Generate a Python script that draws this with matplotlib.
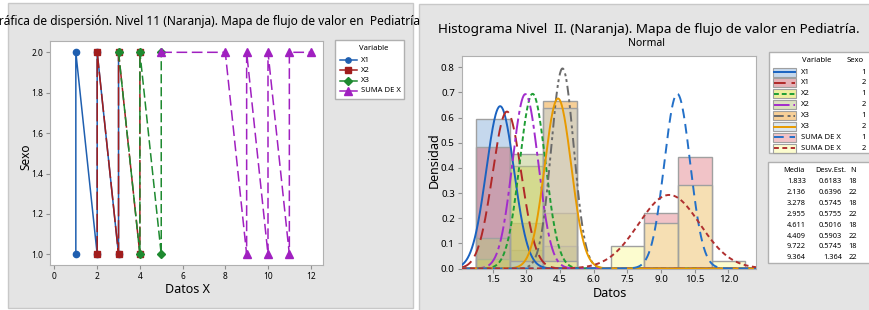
import numpy as np
import matplotlib
matplotlib.use("Agg")
import matplotlib.pyplot as plt
from matplotlib.patches import Rectangle
from matplotlib.lines import Line2D
from matplotlib.colors import to_rgba

plt.rcParams['font.family'] = ['Noto Sans', 'DejaVu Sans']

# ---------------- data ----------------
variables = ["X1", "X1", "X2", "X2", "X3", "X3", "SUMA DE X", "SUMA DE X"]
sexo = [1, 2, 1, 2, 1, 2, 1, 2]
valores = [[1, 2, 3], [1, 2, 3], [2, 3, 4], [2, 3, 4], [4, 5], [3, 4, 5],
           [9, 10, 11], [5, 8, 9, 10, 11, 12]]
conteos = [[5, 11, 2], [3, 13, 6], [1, 11, 6], [4, 15, 3], [7, 11], [1, 11, 10],
           [6, 11, 1], [1, 3, 6, 10, 1, 1]]
media = [1.833, 2.136, 3.278, 2.955, 4.611, 4.409, 9.722, 9.364]
desv = [0.6183, 0.6396, 0.5745, 0.5755, 0.5016, 0.5903, 0.5745, 1.364]
n_obs = [18, 22, 18, 22, 18, 22, 18, 22]
bin_centers = [1.5, 3.0, 4.5, 6.0, 7.5, 9.0, 10.5, 12.0]
scatter_vars = ["X1", "X2", "X3", "SUMA DE X"]

W, H = 870, 310
fig = plt.figure(figsize=(W / 100, H / 100), dpi=100)
fig.patch.set_facecolor('white')

def fx(px):
    return px / W

def fy(py):
    return 1 - py / H

def frect(x0, y0, x1, y1, fc, ec, lw=1.0, z=-5):
    r = Rectangle((fx(x0), fy(y1)), (x1 - x0) / W, (y1 - y0) / H,
                  transform=fig.transFigure, facecolor=fc, edgecolor=ec,
                  linewidth=lw, zorder=z)
    fig.add_artist(r)
    return r

def ftext(px, py, s, **kw):
    fig.text(fx(px), fy(py), s, transform=fig.transFigure, zorder=6, **kw)

# panel backgrounds
frect(8, 3, 413, 308, '#e4e4e4', '#c8c8c8')
frect(419, 4, 872, 312, '#e4e4e4', '#c8c8c8')

# ---------------- left: scatter ----------------
ax1 = fig.add_axes([fx(50), fy(265), (323.3 - 50) / W, (265 - 41) / H])
ax1.set_facecolor('white')
sc_colors = {"X1": "#1f5fb0", "X2": "#a11d1d", "X3": "#1e8a30", "SUMA DE X": "#a020c0"}
sc_markers = {"X1": "o", "X2": "s", "X3": "D", "SUMA DE X": "^"}
sc_ms = {"X1": 4.5, "X2": 5, "X3": 4.5, "SUMA DE X": 6}
sc_dash = {"X1": None, "X2": (12, 2.5), "X3": (6, 2.5), "SUMA DE X": (7, 3)}
for v in scatter_vars:
    pts = set()
    for g in range(len(variables)):
        if variables[g] == v:
            for val in valores[g]:
                pts.add((val, sexo[g]))
    pts = sorted(pts)
    xs = [p[0] for p in pts]
    ys = [p[1] for p in pts]
    ln, = ax1.plot(xs, ys, color=sc_colors[v], lw=1.1)
    if sc_dash[v] is not None:
        ln.set_dashes(sc_dash[v])
    ax1.plot(xs, ys, linestyle='none', marker=sc_markers[v], ms=sc_ms[v],
             color=sc_colors[v], mec=sc_colors[v])
ax1.set_xlim(-0.21, 12.59)
ax1.set_ylim(0.947, 2.056)
ax1.set_xticks(range(0, 13, 2))
ax1.set_yticks([1.0, 1.2, 1.4, 1.6, 1.8, 2.0])
ax1.set_yticklabels(['1.0', '1.2', '1.4', '1.6', '1.8', '2.0'])
ax1.tick_params(labelsize=6, length=3, color='#909090', pad=2)
for s in ax1.spines.values():
    s.set_color('#b0b0b0')
ax1.set_xlabel('Datos X', fontsize=9)
ax1.set_ylabel('Sexo', fontsize=8.5, fontweight='bold')
ax1.xaxis.set_label_coords((188 - 50) / 273.3, -(283 - 265) / 224)
ax1.yaxis.set_label_coords(-(50 - 32) / 273.3, (265 - 157) / 224)
ftext(205.5, 21, 'Gráfica de dispersión. Nivel 11 (Naranja). Mapa de flujo de valor en  Pediatría',
      fontsize=8.6, ha='center', va='center')

# left legend
frect(335, 40, 404, 99, 'white', '#b0b0b0', z=3)
ftext(374, 48, 'Variable', fontsize=5.5, ha='center', va='center')
for i, v in enumerate(scatter_vars):
    yy = 60 + i * 10.3
    fig.add_artist(Line2D([fx(340), fx(357)], [fy(yy), fy(yy)], transform=fig.transFigure,
                          color=sc_colors[v], lw=1.1, zorder=5))
    fig.add_artist(Line2D([fx(348.5)], [fy(yy)], transform=fig.transFigure,
                          marker=sc_markers[v], ms=sc_ms[v] * 0.85, color=sc_colors[v],
                          linestyle='none', zorder=5))
    ftext(361, yy, v, fontsize=5.5, ha='left', va='center')

# ---------------- right: histogram ----------------
ax2 = fig.add_axes([fx(461.7), fy(268.5), (756 - 461.7) / W, (268.5 - 55.7) / H])
ax2.set_facecolor('white')
fills = ['#8db3dd', '#cd6773', '#e1e141', '#bbc781', '#f1a131', '#bbd1e1', '#e58991', '#fbfba1']
line_cols = ['#1a62c0', '#b02828', '#1f9e35', '#a22ccc', '#6a6a6a', '#e89a00', '#2370c8', '#b03030']
line_dash = [None, (6, 3), (2.5, 1.5), (8, 2, 2, 2), (5, 2, 1.5, 1.5, 1.5, 2), None, (5, 3), (2.5, 1.8)]
width = bin_centers[1] - bin_centers[0]
edges = [c - width / 2 for c in bin_centers] + [bin_centers[-1] + width / 2]
for g in range(len(variables)):
    data = np.repeat(valores[g], conteos[g])
    dens, _ = np.histogram(data, bins=edges, density=True)
    keep = [i for i in range(len(bin_centers)) if dens[i] > 0]
    ax2.bar([bin_centers[i] for i in keep], [dens[i] for i in keep], width=width,
            facecolor=to_rgba(fills[g], 0.5), edgecolor='#a0a0a0', linewidth=1.0, zorder=1)
xx = np.linspace(0.12, 13.23, 600)
for g in range(len(variables)):
    yy = np.exp(-0.5 * ((xx - media[g]) / desv[g]) ** 2) / (desv[g] * np.sqrt(2 * np.pi))
    ln, = ax2.plot(xx, yy, color=line_cols[g], lw=1.4, zorder=3)
    if line_dash[g] is not None:
        ln.set_dashes(line_dash[g])
ax2.set_xlim(0.12, 13.23)
ax2.set_ylim(0, 0.846)
ax2.set_xticks(bin_centers)
ax2.set_xticklabels([f'{c:.1f}' for c in bin_centers])
ax2.set_yticks(np.arange(0, 0.81, 0.1))
ax2.set_yticklabels([f'{t:.1f}' for t in np.arange(0, 0.81, 0.1)])
ax2.tick_params(labelsize=7, length=3, color='#909090', pad=2)
for lab in ax2.get_xticklabels() + ax2.get_yticklabels():
    lab.set_fontweight('bold')
for s in ax2.spines.values():
    s.set_color('#b0b0b0')
ax2.set_xlabel('Datos', fontsize=9, fontweight='bold')
ax2.set_ylabel('Densidad', fontsize=9, fontweight='bold')
ax2.xaxis.set_label_coords((610 - 461.7) / 294.3, -(287 - 268.5) / 212.8)
ax2.yaxis.set_label_coords(-(461.7 - 441) / 294.3, (268.5 - 160) / 212.8)
ftext(648.5, 29, 'Histograma Nivel  II. (Naranja). Mapa de flujo de valor en Pediatría.',
      fontsize=9.7, fontweight='bold', ha='center', va='center')
ftext(647, 43, 'Normal', fontsize=7.5, fontweight='bold', ha='center', va='center')

# right legend
frect(769, 51.7, 872, 153, 'white', '#b0b0b0', z=3)
ftext(817, 61, 'Variable', fontsize=5.5, fontweight='bold', ha='center', va='center')
ftext(855, 61, 'Sexo', fontsize=5.5, fontweight='bold', ha='center', va='center')
for g in range(len(variables)):
    yy = 72 + g * 10.9
    r = Rectangle((fx(773), fy(yy + 4.5)), 23 / W, 9 / H, transform=fig.transFigure,
                  facecolor=to_rgba(fills[g], 0.5), edgecolor='#a0a0a0', lw=0.8, zorder=4)
    fig.add_artist(r)
    ln = Line2D([fx(774), fx(795)], [fy(yy), fy(yy)], transform=fig.transFigure,
                color=line_cols[g], lw=1.4, zorder=5)
    if line_dash[g] is not None:
        ln.set_dashes(line_dash[g])
    fig.add_artist(ln)
    ftext(801, yy, variables[g], fontsize=5.5, fontweight='bold', ha='left', va='center')
    ftext(866, yy, str(sexo[g]), fontsize=5.5, fontweight='bold', ha='right', va='center')

# stats table
frect(767.7, 161.7, 872, 263, 'white', '#b0b0b0', z=3)
ftext(794, 171, 'Media', fontsize=5.3, fontweight='bold', ha='center', va='center')
ftext(831, 171, 'Desv.Est.', fontsize=5.3, fontweight='bold', ha='center', va='center')
ftext(853, 171, 'N', fontsize=5.3, fontweight='bold', ha='center', va='center')
for g in range(len(variables)):
    yy = 182 + g * 10.8
    ftext(806, yy, f'{media[g]:.3f}', fontsize=5.3, ha='right', va='center')
    sd = f'{desv[g]:.4f}' if desv[g] < 1 else f'{desv[g]:.3f}'
    ftext(842, yy, sd, fontsize=5.3, ha='right', va='center')
    ftext(857, yy, str(n_obs[g]), fontsize=5.3, ha='right', va='center')

fig.savefig('out.png', dpi=100)
